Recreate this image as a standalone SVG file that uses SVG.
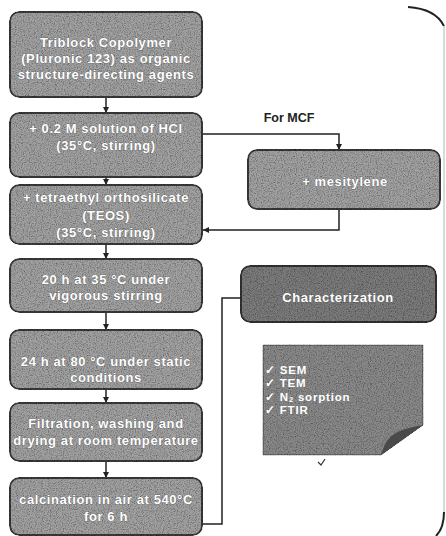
<svg xmlns="http://www.w3.org/2000/svg" width="446" height="536" viewBox="0 0 446 536">
<style>
.box{fill:#a2a2a2;stroke:#3a3a3a;stroke-width:2;filter:url(#grain)}
.dark{fill:#7c7c7c;stroke:#333;stroke-width:2;filter:url(#grain)}
.t{font-family:"Liberation Sans",Arial,sans-serif;font-size:13px;font-weight:bold;letter-spacing:0.6px;fill:#fff;text-anchor:middle;stroke:#505050;stroke-width:0.5;paint-order:stroke}
.n{font-family:"Liberation Sans",Arial,sans-serif;font-size:11.5px;font-weight:bold;letter-spacing:0.8px;fill:#fff}
.c{fill:none;stroke:#222;stroke-width:1.5}
.lbl{font-family:"Liberation Sans",Arial,sans-serif;font-size:12.5px;font-weight:bold;fill:#222}
</style>
<defs>
<filter id="grain" x="-5%" y="-5%" width="110%" height="110%">
<feTurbulence type="fractalNoise" baseFrequency="0.85" numOctaves="2" seed="4" result="n"/>
<feColorMatrix in="n" type="matrix" values="1.5 0 0 0 0.1  1.5 0 0 0 0.1  1.5 0 0 0 0.1  0 0 0 0 1" result="g"/>
<feBlend in="SourceGraphic" in2="g" mode="multiply" result="b"/>
<feComposite in="b" in2="SourceGraphic" operator="in"/>
</filter>
<marker id="ah" viewBox="0 0 10 10" refX="10" refY="5" markerWidth="6" markerHeight="6" orient="auto" markerUnits="userSpaceOnUse">
<path d="M0,0 L10,5 L0,10 z" fill="#222"/>
</marker>
</defs>

<path d="M408,7 C424,8 438,14 444,26" fill="none" stroke="#222" stroke-width="2"/>
<path d="M444,26 L444,512" fill="none" stroke="#ccc" stroke-width="1.5"/>
<path d="M444,512 C444,524 441,531 436,536" fill="none" stroke="#222" stroke-width="2"/>

<g id="connectors">
<line class="c" x1="106" y1="97" x2="106" y2="113" marker-end="url(#ah)"/>
<line class="c" x1="106" y1="177" x2="106" y2="185" marker-end="url(#ah)"/>
<line class="c" x1="106" y1="244" x2="106" y2="259" marker-end="url(#ah)"/>
<line class="c" x1="106" y1="312" x2="106" y2="330" marker-end="url(#ah)"/>
<line class="c" x1="106" y1="389" x2="106" y2="403" marker-end="url(#ah)"/>
<line class="c" x1="106" y1="461" x2="106" y2="478" marker-end="url(#ah)"/>
<polyline class="c" points="202,134 339,134 339,150" marker-end="url(#ah)"/>
<polyline class="c" points="339,209 339,230 203,230" marker-end="url(#ah)"/>
<polyline class="c" points="202,524 222,524 222,298 241,298"/>
<text class="lbl" x="289" y="122" text-anchor="middle">For MCF</text>
</g>

<g id="n1"><rect class="box" x="10" y="12" width="192" height="85" rx="9"/>
<text class="t" x="106" y="47">Triblock Copolymer</text>
<text class="t" x="106" y="63">(Pluronic 123) as organic</text>
<text class="t" x="106" y="79">structure-directing agents</text></g>

<g id="n2"><rect class="box" x="10" y="113" width="192" height="64" rx="9"/>
<text class="t" x="106" y="133">+ 0.2 M solution of HCl</text>
<text class="t" x="106" y="150">(35°C, stirring)</text></g>

<g id="n3"><rect class="box" x="10" y="185" width="192" height="59" rx="9"/>
<text class="t" x="106" y="202">+ tetraethyl orthosilicate</text>
<text class="t" x="106" y="220">(TEOS)</text>
<text class="t" x="106" y="237">(35°C, stirring)</text></g>

<g id="n4"><rect class="box" x="10" y="259" width="192" height="53" rx="9"/>
<text class="t" x="106" y="284">20 h at 35 °C under</text>
<text class="t" x="106" y="300">vigorous stirring</text></g>

<g id="n5"><rect class="box" x="10" y="330" width="192" height="59" rx="9"/>
<text class="t" x="106" y="366">24 h at 80 °C under static</text>
<text class="t" x="106" y="382">conditions</text></g>

<g id="n6"><rect class="box" x="10" y="403" width="192" height="58" rx="9"/>
<text class="t" x="106" y="428">Filtration,  washing and</text>
<text class="t" x="106" y="445">drying at room temperature</text></g>

<g id="n7"><rect class="box" x="10" y="478" width="192" height="57" rx="9"/>
<text class="t" x="106" y="504">calcination in air at 540°C</text>
<text class="t" x="106" y="521">for 6 h</text></g>

<g id="mesitylene"><rect class="box" x="248" y="150" width="192" height="59" rx="9"/>
<text class="t" x="345" y="186">+ mesitylene</text></g>

<g id="characterization"><rect class="dark" x="241" y="266" width="195" height="56" rx="9"/>
<text class="t" x="338" y="302">Characterization</text></g>

<g id="notes">
<path d="M263,345 L423,345 L423,425 L381,455 L263,455 Z" fill="#8a8a8a" stroke="#444" stroke-width="1" style="filter:url(#grain)"/>
<path d="M381,455 C386,438 392,430 423,425 L381,455 Z" fill="#4a4a4a"/>
<text class="n" x="265" y="373.5">✓ SEM</text>
<text class="n" x="265" y="387">✓ TEM</text>
<text class="n" x="265" y="400.5">✓ N<tspan font-size="7.5" dy="1">2</tspan><tspan dy="-1"> sorption</tspan></text>
<text class="n" x="265" y="414">✓ FTIR</text>
<path d="M318,462 l3,3 l4,-6" fill="none" stroke="#333" stroke-width="1.2"/>
</g>
</svg>
